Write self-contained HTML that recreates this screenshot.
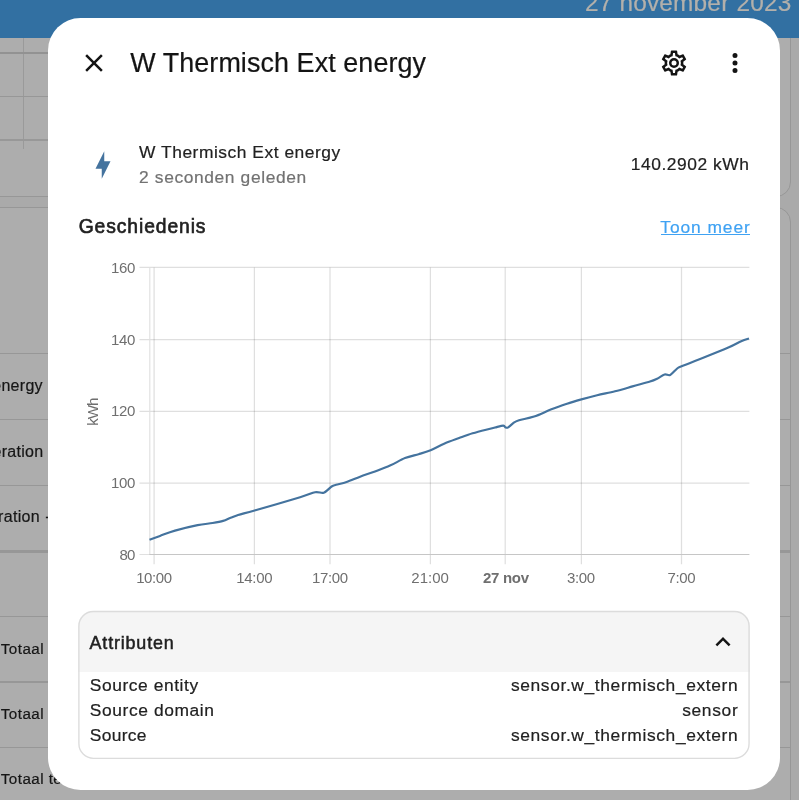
<!DOCTYPE html>
<html lang="nl"><head><meta charset="utf-8"><title>W Thermisch Ext energy</title>
<style>
html,body{margin:0;padding:0}
body{width:799px;height:800px;overflow:hidden;position:relative;background:#aaaaaa;font-family:"Liberation Sans",sans-serif;}
.abs{position:absolute;z-index:2}
.t{position:absolute;z-index:3;white-space:nowrap;line-height:0;}
#hdrbar{position:absolute;left:0;top:0;width:799px;height:38px;background:#3270a2}
.card{position:absolute;background:#adadad;border:1.25px solid #979797;border-radius:15px;box-sizing:border-box}
.hl{position:absolute;height:1.25px;background:#979797}
.vl{position:absolute;width:1.25px;background:#979797}
#dlg{z-index:1;position:absolute;left:48px;top:17.7px;width:732px;height:772.2px;background:#fff;border-radius:32.5px}
#attrbox{z-index:2;position:absolute;left:78.4px;top:611px;width:671.2px;height:147.9px;border-radius:15px;overflow:hidden;background:#fff}
#attrhead{position:absolute;left:0;top:0;right:0;height:60.8px;background:#f5f5f5}
svg{z-index:2;position:absolute;overflow:visible}

</style></head>
<body>
<div class="card" style="left:-30px;top:20px;width:820.6px;height:177px"></div>
<div class="card" style="left:-30px;top:206.8px;width:820.6px;height:700px"></div>
<div class="vl" style="left:23px;top:37.8px;height:111.5px;background:#9a9a9a"></div>
<div class="hl" style="left:0;top:52px;width:60px;height:2px;background:#929292"></div>
<div class="hl" style="left:0;top:96px;width:60px"></div>
<div class="hl" style="left:0;top:139px;width:60px;height:2px;background:#989898"></div>
<div class="hl" style="left:0;top:353.2px;width:790px"></div>
<div class="hl" style="left:0;top:419px;width:790px"></div>
<div class="hl" style="left:0;top:484.8px;width:790px"></div>
<div class="hl" style="left:0;top:550.4px;width:790px;height:2.5px"></div>
<div class="hl" style="left:0;top:615.8px;width:790px"></div>
<div class="hl" style="left:0;top:681.4px;width:790px"></div>
<div class="hl" style="left:0;top:746.8px;width:790px"></div>
<div id="hdrbar"></div>
<div id="dlg"></div>
<svg style="left:78.8px;top:47.9px" width="30" height="30" viewBox="0 0 24 24"><path fill="#141414" d="M19,6.41L17.59,5L12,10.59L6.41,5L5,6.41L10.59,12L5,17.59L6.41,19L12,13.41L17.59,19L19,17.59L13.41,12L19,6.41Z"/></svg>
<svg style="left:659.4px;top:47.8px" width="30" height="30" viewBox="0 0 24 24"><path fill="#141414" d="M12,8A4,4 0 0,1 16,12A4,4 0 0,1 12,16A4,4 0 0,1 8,12A4,4 0 0,1 12,8M12,10A2,2 0 0,0 10,12A2,2 0 0,0 12,14A2,2 0 0,0 14,12A2,2 0 0,0 12,10M10,22C9.75,22 9.54,21.82 9.5,21.58L9.13,18.93C8.5,18.68 7.96,18.34 7.44,17.94L4.95,18.95C4.73,19.03 4.46,18.95 4.34,18.73L2.34,15.27C2.21,15.05 2.27,14.78 2.46,14.63L4.57,12.97L4.5,12L4.57,11L2.46,9.37C2.27,9.22 2.21,8.95 2.34,8.73L4.34,5.27C4.46,5.05 4.73,4.96 4.95,5.05L7.44,6.05C7.96,5.66 8.5,5.32 9.13,5.07L9.5,2.42C9.54,2.18 9.75,2 10,2H14C14.25,2 14.46,2.18 14.5,2.42L14.87,5.07C15.5,5.32 16.04,5.66 16.56,6.05L19.05,5.05C19.27,4.96 19.54,5.05 19.66,5.27L21.66,8.73C21.79,8.95 21.73,9.22 21.54,9.37L19.43,11L19.5,12L19.43,13L21.54,14.63C21.73,14.78 21.79,15.05 21.66,15.27L19.66,18.73C19.54,18.95 19.27,19.04 19.05,18.95L16.56,17.95C16.04,18.34 15.5,18.68 14.87,18.93L14.5,21.58C14.46,21.82 14.25,22 14,22H10M11.25,4L10.88,6.61C9.68,6.86 8.62,7.5 7.85,8.39L5.44,7.35L4.69,8.65L6.8,10.2C6.4,11.37 6.4,12.64 6.8,13.8L4.68,15.36L5.43,16.66L7.86,15.62C8.63,16.5 9.68,17.14 10.87,17.38L11.24,20H12.76L13.13,17.39C14.32,17.14 15.37,16.5 16.14,15.62L18.57,16.66L19.32,15.36L17.2,13.81C17.6,12.64 17.6,11.37 17.2,10.2L19.31,8.65L18.56,7.35L16.15,8.39C15.38,7.5 14.32,6.86 13.12,6.62L12.75,4H11.25Z"/></svg>
<svg style="left:719.7px;top:47.9px" width="30" height="30" viewBox="0 0 24 24"><path fill="#141414" d="M12,16A2,2 0 0,1 14,18A2,2 0 0,1 12,20A2,2 0 0,1 10,18A2,2 0 0,1 12,16M12,10A2,2 0 0,1 14,12A2,2 0 0,1 12,14A2,2 0 0,1 10,12A2,2 0 0,1 12,10M12,4A2,2 0 0,1 14,6A2,2 0 0,1 12,8A2,2 0 0,1 10,6A2,2 0 0,1 12,4Z"/></svg>
<svg style="left:88px;top:149.9px" width="30" height="30" viewBox="0 0 24 24"><path fill="#44739e" d="M11 15H6L13 1V9H18L11 23V15Z"/></svg>
<div class="abs" style="left:660.8px;top:234px;width:89.4px;height:1.4px;background:#3fa2f3"></div>
<svg id="chart" style="left:0;top:0" width="799" height="800" viewBox="0 0 799 800">
<g stroke="rgba(0,0,0,0.125)" stroke-width="1.25" fill="none">
<path d="M139.5 267.4H749.4M139.5 339.5H749.4M139.5 411.3H749.4M139.5 483H749.4"/>
<path d="M154.1 267.4V564.3M254.4 267.4V564.3M330 267.4V564.3M430.4 267.4V564.3M505.2 267.4V564.3M581.4 267.4V564.3M681.5 267.4V564.3"/>
</g>
<path stroke="#e0e0e0" stroke-width="1.1" fill="none" d="M149.8 267.4V554.5M139.5 554.5H149.8"/>
<path stroke="#c6c6c6" stroke-width="1.1" fill="none" d="M149.3 554.5H749.4"/>
<path id="line" fill="none" stroke="#44739e" stroke-width="2.15" stroke-linejoin="round" stroke-linecap="butt" d="M149.5 539.8C151.2 539.2 155.9 537.4 160.0 535.9C164.1 534.4 169.0 532.3 175.0 530.6C181.0 528.9 191.6 526.3 197.6 525.1C203.6 523.9 208.5 523.7 212.6 523.0C216.7 522.3 220.2 521.7 223.1 520.9C226.0 520.1 228.2 518.7 230.6 517.8C233.0 516.9 234.3 516.2 238.1 515.0C241.9 513.8 244.7 513.3 254.6 510.5C264.5 507.7 290.4 500.2 300.1 497.3C309.8 494.4 311.3 492.9 315.1 492.2C318.9 491.5 321.2 493.6 323.8 492.7C326.4 491.8 329.6 487.8 331.6 486.5C333.6 485.2 333.7 485.5 336.1 484.8C338.5 484.1 342.8 483.3 346.6 482.0C350.4 480.7 355.6 478.4 360.1 476.7C364.6 475.0 370.2 473.2 375.0 471.4C379.8 469.6 385.2 467.7 390.0 465.6C394.8 463.5 400.4 459.9 405.0 458.1C409.6 456.3 414.5 455.4 418.6 454.2C422.7 453.0 426.5 452.0 430.6 450.3C434.7 448.6 439.5 445.8 444.1 443.8C448.7 441.8 454.5 439.8 459.1 438.1C463.7 436.4 468.3 434.6 472.6 433.3C476.9 432.0 482.5 430.6 486.1 429.7C489.7 428.8 492.2 428.2 495.0 427.5C497.8 426.8 501.6 425.6 503.3 425.6C505.0 425.6 504.7 427.1 505.5 427.4C506.3 427.7 506.9 428.2 508.2 427.4C509.5 426.6 512.1 423.8 513.8 422.6C515.5 421.4 515.8 421.2 519.0 420.2C522.2 419.2 528.8 418.4 534.1 416.6C539.4 414.8 546.8 411.1 552.1 409.1C557.4 407.1 562.4 405.4 567.1 403.8C571.8 402.2 576.6 400.8 581.4 399.4C586.2 398.0 591.7 396.5 597.1 395.2C602.5 393.9 609.3 392.7 615.0 391.3C620.7 389.9 626.9 388.0 632.5 386.4C638.1 384.8 646.1 382.7 650.0 381.5C653.9 380.3 654.8 379.8 657.1 378.7C659.4 377.6 662.5 375.1 664.6 374.5C666.7 373.9 668.2 376.0 670.2 375.0C672.2 374.0 675.4 369.9 677.2 368.5C679.0 367.1 677.5 368.0 681.6 366.3C685.7 364.6 695.0 361.0 702.6 358.0C710.2 355.0 722.7 350.0 728.9 347.3C735.1 344.6 738.0 342.6 741.2 341.2C744.4 339.8 747.8 338.8 749.0 338.4"/>
<text transform="translate(97.7 411.6) rotate(-90)" text-anchor="middle" font-family="Liberation Sans, sans-serif" font-size="15.2" fill="#6f6f6f" textLength="28.2" lengthAdjust="spacing">kWh</text>
</svg>
<div id="attrbox"><div id="attrhead"></div></div>
<svg style="left:0;top:0" width="799" height="800"><rect x="78.9" y="611.45" width="670.15" height="146.9" rx="14.6" fill="none" stroke="#dcdcdc" stroke-width="1.35"/></svg>
<svg style="left:707.8px;top:627.2px" width="30" height="30" viewBox="0 0 24 24"><path fill="#141414" d="M7.41,15.41L12,10.83L16.59,15.41L18,14L12,8L6,14L7.41,15.41Z"/></svg>
<span class="t" id="hdr" style="left:584.90px;top:3.00px;font-size:24.4px;color:#b3b0ab;letter-spacing:0.200px;-webkit-text-stroke:0.2px currentColor;">27 november 2023</span>
<span class="t" id="title" style="left:130.20px;top:63.00px;font-size:26.9px;color:#141414;letter-spacing:0.090px;-webkit-text-stroke:0.2px currentColor;">W Thermisch Ext energy</span>
<span class="t" id="prim" style="left:139.10px;top:152.00px;font-size:17.4px;color:#212121;letter-spacing:0.525px;-webkit-text-stroke:0.2px currentColor;">W Thermisch Ext energy</span>
<span class="t" id="sec" style="left:139.10px;top:177.00px;font-size:17.4px;color:#727272;letter-spacing:0.614px;-webkit-text-stroke:0.2px currentColor;">2 seconden geleden</span>
<span class="t" id="val" style="left:630.80px;top:164.00px;font-size:17.4px;color:#212121;letter-spacing:0.549px;-webkit-text-stroke:0.2px currentColor;">140.2902 kWh</span>
<span class="t" id="gesch" style="left:78.70px;top:227.00px;font-size:19.3px;color:#212121;letter-spacing:0.907px;-webkit-text-stroke:0.62px currentColor;">Geschiedenis</span>
<span class="t" id="toon" style="left:660.30px;top:227.00px;font-size:17.4px;color:#3fa2f3;letter-spacing:0.916px;-webkit-text-stroke:0.2px currentColor;">Toon meer</span>
<span class="t" id="attr" style="left:89.60px;top:643.00px;font-size:17.9px;color:#212121;letter-spacing:0.836px;-webkit-text-stroke:0.5px currentColor;">Attributen</span>
<span class="t" id="k1" style="left:89.80px;top:685.00px;font-size:17.4px;color:#212121;letter-spacing:0.567px;-webkit-text-stroke:0.2px currentColor;">Source entity</span>
<span class="t" id="k2" style="left:89.80px;top:710.00px;font-size:17.4px;color:#212121;letter-spacing:0.593px;-webkit-text-stroke:0.2px currentColor;">Source domain</span>
<span class="t" id="k3" style="left:89.80px;top:735.00px;font-size:17.4px;color:#212121;letter-spacing:0.318px;-webkit-text-stroke:0.2px currentColor;">Source</span>
<span class="t" id="v1" style="left:510.90px;top:685.00px;font-size:17.4px;color:#212121;letter-spacing:0.630px;-webkit-text-stroke:0.2px currentColor;">sensor.w_thermisch_extern</span>
<span class="t" id="v2" style="left:682.20px;top:710.00px;font-size:17.4px;color:#212121;letter-spacing:0.659px;-webkit-text-stroke:0.2px currentColor;">sensor</span>
<span class="t" id="v3" style="left:510.90px;top:735.00px;font-size:17.4px;color:#212121;letter-spacing:0.630px;-webkit-text-stroke:0.2px currentColor;">sensor.w_thermisch_extern</span>
<span class="t" id="y160" style="left:111.05px;top:268.00px;font-size:15px;color:#6f6f6f;letter-spacing:-0.391px;">160</span>
<span class="t" id="y140" style="left:111.05px;top:340.00px;font-size:15px;color:#6f6f6f;letter-spacing:-0.391px;">140</span>
<span class="t" id="y120" style="left:111.05px;top:411.00px;font-size:15px;color:#6f6f6f;letter-spacing:-0.391px;">120</span>
<span class="t" id="y100" style="left:111.05px;top:483.00px;font-size:15px;color:#6f6f6f;letter-spacing:-0.391px;">100</span>
<span class="t" id="y80" style="left:119.40px;top:555.00px;font-size:15px;color:#6f6f6f;letter-spacing:-0.787px;">80</span>
<span class="t" id="x1000" style="left:136.20px;top:578.00px;font-size:15px;color:#6f6f6f;letter-spacing:-0.437px;">10:00</span>
<span class="t" id="x1400" style="left:236.30px;top:578.00px;font-size:15px;color:#6f6f6f;letter-spacing:-0.337px;">14:00</span>
<span class="t" id="x1700" style="left:311.90px;top:578.00px;font-size:15px;color:#6f6f6f;letter-spacing:-0.337px;">17:00</span>
<span class="t" id="x2100" style="left:411.30px;top:578.00px;font-size:15px;color:#6f6f6f;letter-spacing:0.013px;">21:00</span>
<span class="t" id="x27nov" style="left:483.00px;top:578.00px;font-size:15px;color:#6f6f6f;letter-spacing:-0.306px;font-weight:bold;">27 nov</span>
<span class="t" id="x300" style="left:567.00px;top:578.00px;font-size:15px;color:#6f6f6f;letter-spacing:-0.401px;">3:00</span>
<span class="t" id="x700" style="left:667.50px;top:578.00px;font-size:15px;color:#6f6f6f;letter-spacing:-0.401px;">7:00</span>
<span class="t" id="b1" style="right:756.10px;top:386.00px;font-size:16px;color:#161616;letter-spacing:0.300px;z-index:0;-webkit-text-stroke:0.2px currentColor;">W Thermisch Ext energy</span>
<span class="t" id="b2" style="right:755.50px;top:452.00px;font-size:16px;color:#161616;letter-spacing:0.300px;z-index:0;-webkit-text-stroke:0.2px currentColor;">Generation</span>
<span class="t" id="b3" style="right:759.10px;top:517.00px;font-size:16px;color:#161616;letter-spacing:0.300px;z-index:0;-webkit-text-stroke:0.2px currentColor;">Generation</span>
<span class="t" id="b3b" style="left:45.20px;top:517.00px;font-size:16px;color:#161616;letter-spacing:0.300px;z-index:0;-webkit-text-stroke:0.2px currentColor;">- Totaal</span>
<span class="t" id="b4" style="left:0.80px;top:649.00px;font-size:15.2px;color:#161616;letter-spacing:0.454px;z-index:0;-webkit-text-stroke:0.2px currentColor;">Totaal</span>
<span class="t" id="b5" style="left:0.80px;top:714.00px;font-size:15.2px;color:#161616;letter-spacing:0.454px;z-index:0;-webkit-text-stroke:0.2px currentColor;">Totaal</span>
<span class="t" id="b6" style="left:0.80px;top:779.00px;font-size:15.2px;color:#161616;letter-spacing:0.450px;z-index:0;-webkit-text-stroke:0.2px currentColor;">Totaal teruglevering</span>

</body></html>
